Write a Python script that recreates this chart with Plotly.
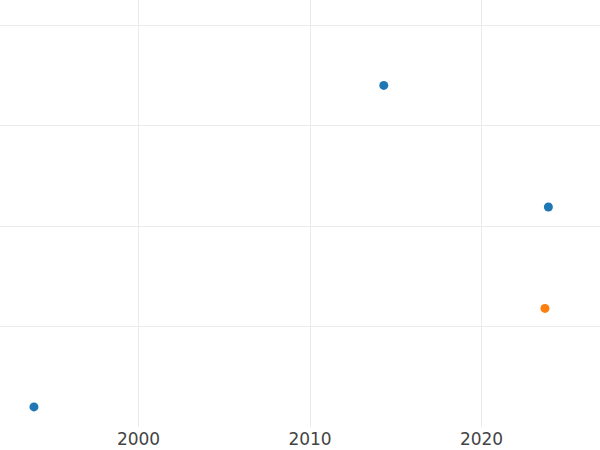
import plotly.graph_objects as go

blue_x = [1993.9, 2014.3, 2023.9]
blue_y = [0.2, 3.4, 2.19]
orange_x = [2023.7]
orange_y = [1.18]
x_ticks = [2000, 2010, 2020]

fig = go.Figure()
fig.add_trace(go.Scatter(x=blue_x, y=blue_y, mode="markers",
                         marker=dict(color="#1f77b4", size=9), name="A"))
fig.add_trace(go.Scatter(x=orange_x, y=orange_y, mode="markers",
                         marker=dict(color="#ff7f0e", size=9), name="B"))
fig.update_layout(
    width=600, height=450,
    margin=dict(l=0, r=0, t=0, b=23),
    paper_bgcolor="white", plot_bgcolor="white",
    showlegend=False,
    font=dict(family="DejaVu Sans", size=17, color="#444"),
    xaxis=dict(range=[1991.92, 2026.91], tickvals=x_ticks, showgrid=True,
               gridcolor="#ebebeb", zeroline=False, showline=False, ticks=""),
    yaxis=dict(range=[0, 4.25], dtick=1, tick0=0, showgrid=True, gridcolor="#ebebeb",
               zeroline=False, showticklabels=False, showline=False, ticks=""),
)
fig.write_html("out.html", config={"displayModeBar": False},
               post_script="document.body.style.margin='0';")
